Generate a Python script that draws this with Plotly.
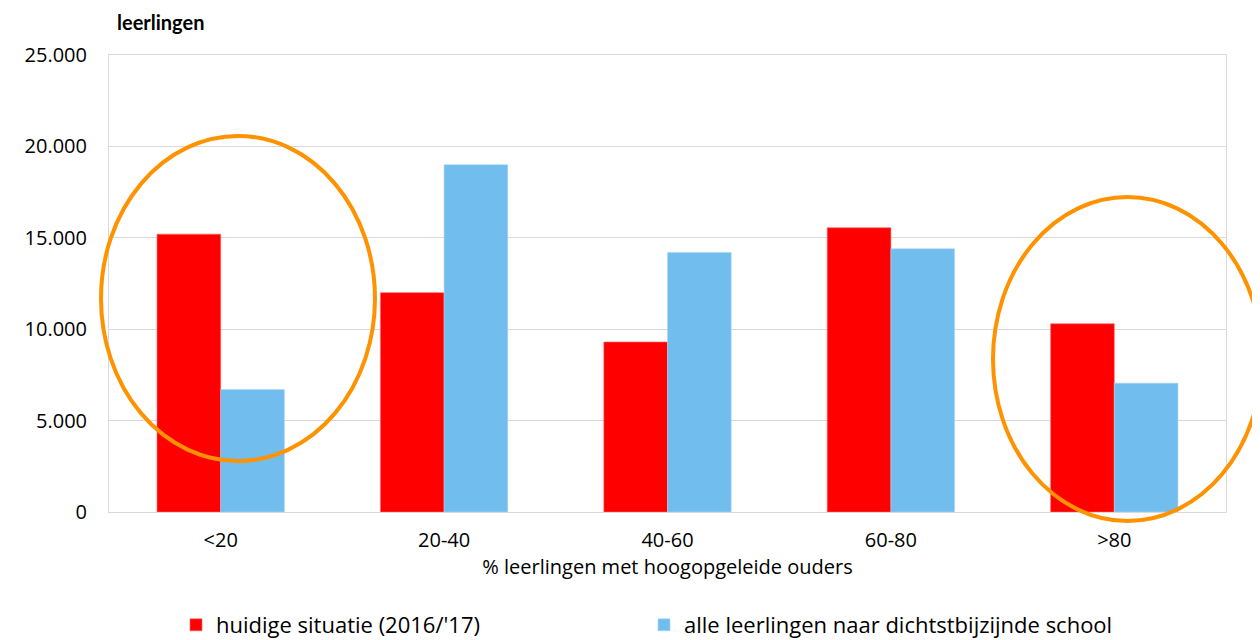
import plotly.graph_objects as go

categories = ["<20", "20-40", "40-60", "60-80", ">80"]
huidige = [15200, 12000, 9300, 15550, 10300]
dichtstbij = [6700, 19000, 14200, 14400, 7050]
series_names = ["huidige situatie (2016/'17)", "alle leerlingen naar dichtstbijzijnde school"]
y_ticks = [0, 5000, 10000, 15000, 20000, 25000]

font_main = "'Open Sans', 'Noto Sans', sans-serif"

fig = go.Figure()
fig.add_trace(go.Bar(x=categories, y=huidige, name=series_names[0], legend="legend", showlegend=True,
                     marker=dict(color="#FF0000", line=dict(color="#FF6666", width=0.6))))
fig.add_trace(go.Bar(x=categories, y=dichtstbij, name=series_names[1], legend="legend2", showlegend=True,
                     marker=dict(color="#71BDED", line=dict(color="#A8D6F5", width=0.6))))

OFF = 8  # page body margin
W, H = 1260 - OFF, 640 - OFF
L, T = 109 - OFF, 55 - OFF
R = W - (1226 - OFF)
B = H - (512 - OFF)
pw, ph = W - L - R, H - T - B

def px(x):
    return (x - OFF - L) / pw

def py(y):
    return (H - B - (y - OFF)) / ph

def cx(x):
    return (x - OFF) / W

def cy(y):
    return 1 - (y - OFF) / H

legend_common = dict(orientation="h", xref="container", yref="container",
                     xanchor="left", yanchor="middle", itemwidth=30,
                     font=dict(size=22), bgcolor="rgba(0,0,0,0)")

fig.update_layout(
    width=W, height=H,
    margin=dict(l=L, r=R, t=T, b=B),
    paper_bgcolor="white", plot_bgcolor="white",
    showlegend=True,
    barmode="group", bargap=0.43, bargroupgap=0,
    separators=",.",
    font=dict(family=font_main, color="#000000", size=19),
    xaxis=dict(showline=True, linecolor="#D9D9D9", linewidth=1, mirror=True,
               tickfont=dict(size=20), ticks="", automargin=False, ticklabelstandoff=10,
               title=dict(text="% leerlingen met hoogopgeleide ouders", font=dict(size=20), standoff=7)),
    yaxis=dict(range=[0, 25000], tickvals=y_ticks, tickformat=",d",
               showgrid=True, gridcolor="#D9D9D9", gridwidth=1,
               showline=True, linecolor="#D9D9D9", linewidth=1, mirror=True, automargin=False,
               zeroline=False, tickfont=dict(size=20), ticklabelstandoff=17),
    legend=dict(x=cx(176), y=cy(625), **legend_common),
    legend2=dict(x=cx(644), y=cy(625), **legend_common),
    annotations=[dict(text="<b>leerlingen</b>", xref="paper", yref="paper",
                      x=px(115), y=py(22), xanchor="left", yanchor="middle",
                      showarrow=False, font=dict(family="Lato, sans-serif", size=20))],
    shapes=[
        dict(type="circle", xref="paper", yref="paper",
             x0=px(101), x1=px(375), y0=py(461), y1=py(136),
             line=dict(color="#FF9200", width=4)),
        dict(type="circle", xref="paper", yref="paper",
             x0=px(993), x1=px(1262), y0=py(521), y1=py(197),
             line=dict(color="#FF9200", width=4)),
    ],
)

fig.write_html("out.html")
